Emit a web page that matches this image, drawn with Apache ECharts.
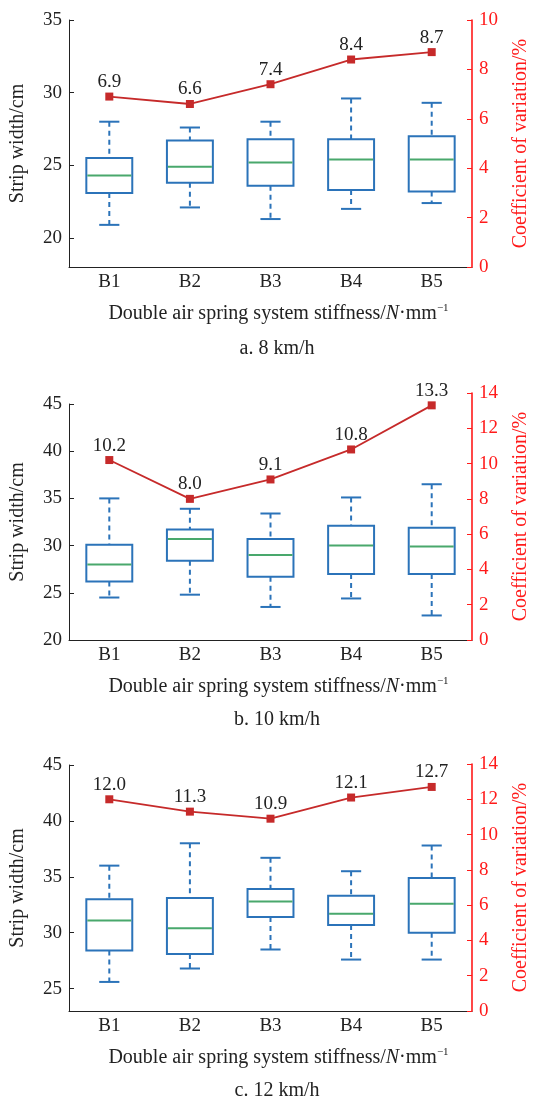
<!DOCTYPE html>
<html>
<head>
<meta charset="utf-8">
<script src="https://cdn.jsdelivr.net/npm/echarts@6/dist/echarts.min.js"></script>
<style>
html, body { margin: 0; padding: 0; background: #fff; }
#main { width: 539px; height: 1100px; }
</style>
</head>
<body>
<div id="main"></div>
<script>
var categories = ['B1', 'B2', 'B3', 'B4', 'B5'];

// each row: [min, Q1, median, Q3, max]
var box8 = [
    [20.9, 23.1, 24.3, 25.5, 28.0],
    [22.1, 23.8, 24.9, 26.7, 27.6],
    [21.3, 23.6, 25.2, 26.8, 28.0],
    [22.0, 23.3, 25.4, 26.8, 29.6],
    [22.4, 23.2, 25.4, 27.0, 29.3]
];
var box10 = [
    [24.5, 26.2, 28.0, 30.1, 35.0],
    [24.8, 28.4, 30.7, 31.7, 33.9],
    [23.5, 26.7, 29.0, 30.7, 33.4],
    [24.4, 27.0, 30.0, 32.1, 35.1],
    [22.6, 27.0, 29.9, 31.9, 36.5]
];
var box12 = [
    [25.6, 28.4, 31.1, 33.0, 36.0],
    [26.8, 28.1, 30.4, 33.1, 38.0],
    [28.5, 31.4, 32.8, 33.9, 36.7],
    [27.6, 30.7, 31.7, 33.3, 35.5],
    [27.6, 30.0, 32.6, 34.9, 37.8]
];

var cv8 = [6.9, 6.6, 7.4, 8.4, 8.7];
var cv10 = [10.2, 8.0, 9.1, 10.8, 13.3];
var cv12 = [12.0, 11.3, 10.9, 12.1, 12.7];

var widthTicks8 = [20, 25, 30, 35];
var widthTicks10 = [20, 25, 30, 35, 40, 45];
var widthTicks12 = [25, 30, 35, 40, 45];

var captions = ['a. 8 km/h', 'b. 10 km/h', 'c. 12 km/h'];

var FONT = '"Liberation Serif", "DejaVu Serif", serif';
var BLUE = '#2b73b9';
var GREEN = '#49a86c';
var DARKRED = '#c62a2a';
var RED = '#ff1a1a';
var INK = '#222';

// layout of the three panels (pixels)
var panels = [
    {box: box8, cv: cv8, ticks: widthTicks8, boxTop: 20, lineTop: 20, bottom: 267, yMin: 18, yMax: 35, cvMax: 10, capGap: 82},
    {box: box10, cv: cv10, ticks: widthTicks10, boxTop: 404, lineTop: 393, bottom: 640, yMin: 20, yMax: 45, cvMax: 14, capGap: 80},
    {box: box12, cv: cv12, ticks: widthTicks12, boxTop: 765, lineTop: 764, bottom: 1011, yMin: 23, yMax: 45, cvMax: 14, capGap: 80}
];

function renderBox(params, api) {
    var i = api.value(0);
    var lo = api.coord([i, api.value(1)]);
    var q1 = api.coord([i, api.value(2)]);
    var med = api.coord([i, api.value(3)]);
    var q3 = api.coord([i, api.value(4)]);
    var hi = api.coord([i, api.value(5)]);
    var band = api.size([1, 0])[0];
    var bw = band * 0.57;
    var cw = band * 0.25;
    var cx = lo[0];
    var dashed = {stroke: BLUE, lineWidth: 2, lineDash: [5, 4]};
    var solid = {stroke: BLUE, lineWidth: 2};
    return {
        type: 'group',
        children: [
            {type: 'line', shape: {x1: cx, y1: hi[1], x2: cx, y2: q3[1]}, style: dashed},
            {type: 'line', shape: {x1: cx, y1: q1[1], x2: cx, y2: lo[1]}, style: dashed},
            {type: 'line', shape: {x1: cx - cw / 2, y1: hi[1], x2: cx + cw / 2, y2: hi[1]}, style: solid},
            {type: 'line', shape: {x1: cx - cw / 2, y1: lo[1], x2: cx + cw / 2, y2: lo[1]}, style: solid},
            {type: 'rect', shape: {x: cx - bw / 2, y: q3[1], width: bw, height: q1[1] - q3[1]},
                style: {fill: '#fff', stroke: BLUE, lineWidth: 2}},
            {type: 'line', shape: {x1: cx - bw / 2 + 1, y1: med[1], x2: cx + bw / 2 - 1, y2: med[1]},
                style: {stroke: GREEN, lineWidth: 2}}
        ]
    };
}

var grid = [], xAxis = [], yAxis = [], series = [], graphic = [];

panels.forEach(function (p, k) {
    grid.push({left: 69, width: 403, top: p.boxTop, height: p.bottom - p.boxTop});
    grid.push({left: 69, width: 403, top: p.lineTop, height: p.bottom - p.lineTop});

    xAxis.push({
        type: 'category', gridIndex: 2 * k, data: categories,
        axisLine: {lineStyle: {color: INK, width: 1}},
        axisTick: {inside: true, length: 5, alignWithLabel: true, lineStyle: {color: INK}},
        axisLabel: {color: INK, fontFamily: FONT, fontSize: 19, margin: 6},
        name: 'Double air spring system stiffness/{i|N}·mm{s|−1}',
        nameLocation: 'middle', nameGap: 36,
        nameTextStyle: {
            color: INK, fontFamily: FONT, fontSize: 20, padding: [0, 0, 0, 16],
            rich: {
                i: {fontFamily: FONT, fontSize: 20, fontStyle: 'italic', color: INK},
                s: {fontFamily: FONT, fontSize: 11, color: INK, verticalAlign: 'top', padding: [0, 0, 10, 0]}
            }
        }
    });
    xAxis.push({type: 'category', gridIndex: 2 * k + 1, data: categories, show: false});

    yAxis.push({
        type: 'value', gridIndex: 2 * k, position: 'left',
        min: p.yMin, max: p.yMax,
        splitLine: {show: false},
        axisLine: {show: true, lineStyle: {color: INK, width: 1}},
        axisTick: {show: true, inside: true, length: 5, customValues: p.ticks, lineStyle: {color: INK}},
        axisLabel: {color: INK, fontFamily: FONT, fontSize: 19, margin: 7, customValues: p.ticks},
        name: 'Strip width/cm', nameLocation: 'middle', nameGap: 41,
        nameTextStyle: {color: INK, fontFamily: FONT, fontSize: 20}
    });
    yAxis.push({
        type: 'value', gridIndex: 2 * k + 1, position: 'right',
        min: 0, max: p.cvMax, interval: 2,
        splitLine: {show: false},
        axisLine: {show: true, lineStyle: {color: RED, width: 1.6}},
        axisTick: {show: true, inside: true, length: 5, lineStyle: {color: RED}},
        axisLabel: {color: RED, fontFamily: FONT, fontSize: 19, margin: 7},
        name: 'Coefficient of variation/%', nameLocation: 'middle', nameGap: 39,
        nameTextStyle: {color: RED, fontFamily: FONT, fontSize: 20}
    });

    series.push({
        type: 'custom', xAxisIndex: 2 * k, yAxisIndex: 2 * k,
        renderItem: renderBox,
        encode: {x: 0, y: [1, 2, 3, 4, 5]},
        data: p.box.map(function (r, i) { return [i].concat(r); }),
        silent: true
    });
    series.push({
        type: 'line', xAxisIndex: 2 * k + 1, yAxisIndex: 2 * k + 1,
        data: p.cv,
        symbol: 'rect', symbolSize: 8,
        lineStyle: {color: DARKRED, width: 1.8},
        itemStyle: {color: DARKRED},
        label: {
            show: true, position: 'top', distance: 1,
            color: INK, fontFamily: FONT, fontSize: 19,
            formatter: function (d) { return d.value.toFixed(1); }
        },
        silent: true, animation: false
    });

    graphic.push({
        type: 'text', x: 277, y: p.bottom + p.capGap,
        style: {text: captions[k], fill: INK, font: '20px ' + FONT, textAlign: 'center', textVerticalAlign: 'middle'}
    });
});

var chart = echarts.init(document.getElementById('main'));
chart.setOption({
    animation: false,
    backgroundColor: '#fff',
    grid: grid,
    xAxis: xAxis,
    yAxis: yAxis,
    series: series,
    graphic: graphic
});
</script>
</body>
</html>
